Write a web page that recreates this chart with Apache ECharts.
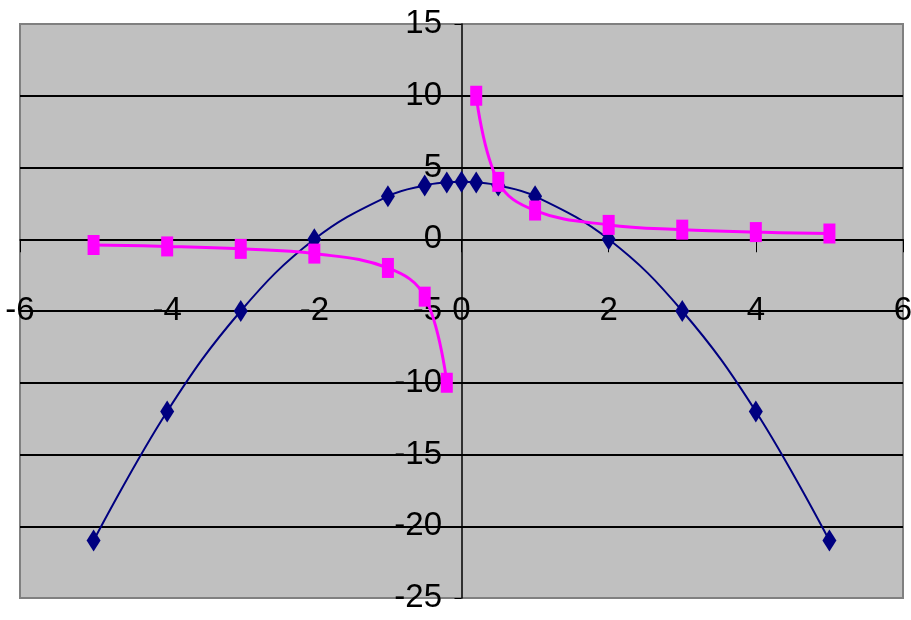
<!DOCTYPE html>
<html>
<head>
<meta charset="utf-8">
<script src="https://cdn.jsdelivr.net/npm/echarts@6/dist/echarts.min.js"></script>
<style>
  html, body { margin: 0; padding: 0; background: #fff; }
  #chart { width: 911px; height: 620px; }
</style>
</head>
<body>
<div id="chart"></div>
<script>
// parabola y = 4 - x^2
var blueX = [-5, -4, -3, -2, -1, -0.5, -0.2, 0, 0.2, 0.5, 1, 2, 3, 4, 5];
var blueY = [-21, -12, -5, 0, 3, 3.75, 3.96, 4, 3.96, 3.75, 3, 0, -5, -12, -21];

// hyperbola y = 2 / x, two branches
var pinkLeftX = [-5, -4, -3, -2, -1, -0.5, -0.2];
var pinkLeftY = [-0.4, -0.5, -0.67, -1, -2, -4, -10];
var pinkRightX = [0.2, 0.5, 1, 2, 3, 4, 5];
var pinkRightY = [10, 4, 2, 1, 0.67, 0.5, 0.4];

function pairs(xs, ys) {
  var out = [];
  for (var i = 0; i < xs.length; i++) out.push([xs[i], ys[i]]);
  return out;
}

var font = "'Liberation Sans', Arial, sans-serif";
var myChart = echarts.init(document.getElementById('chart'));

var pinkStyle = {
  type: 'line',
  smooth: 0.4,
  symbol: 'rect',
  symbolSize: [12, 20],
  itemStyle: { color: '#ff00ff' },
  lineStyle: { color: '#ff00ff', width: 3 },
  z: 3
};

var option = {
  animation: false,
  grid: {
    left: 20, top: 24, right: 8, bottom: 22,
    outerBoundsMode: 'none',
    containLabel: false,
    show: true,
    backgroundColor: '#c0c0c0',
    borderColor: '#808080',
    borderWidth: 2
  },
  xAxis: {
    type: 'value',
    min: -6, max: 6, interval: 2,
    axisLine: { onZero: true, lineStyle: { color: '#000', width: 1.5 } },
    axisTick: { show: true, length: 13, lineStyle: { color: '#000' } },
    axisLabel: {
      // labels sit on the -5 gridline, as in the original
      margin: -304, fontSize: 33, fontFamily: font, color: '#000',
      showMinLabel: true, showMaxLabel: true, hideOverlap: false
    },
    splitLine: { show: false }
  },
  yAxis: {
    type: 'value',
    min: -25, max: 15, interval: 5,
    axisLine: { onZero: true, lineStyle: { color: '#000', width: 1.5 } },
    axisTick: { show: true, length: 7, lineStyle: { color: '#000' } },
    axisLabel: {
      // labels next to the vertical axis at x = 0
      margin: -422, fontSize: 33, fontFamily: font, color: '#000',
      showMinLabel: true, showMaxLabel: true, hideOverlap: false
    },
    splitLine: {
      show: true, showMinLine: false, showMaxLine: false,
      lineStyle: { color: '#000', width: 2 }
    }
  },
  series: [
    {
      name: 'y1',
      type: 'line',
      smooth: 0.4,
      symbol: 'diamond',
      symbolSize: [14, 22],
      itemStyle: { color: '#000080' },
      lineStyle: { color: '#000080', width: 2 },
      data: pairs(blueX, blueY),
      z: 2
    },
    Object.assign({ name: 'y2a', data: pairs(pinkLeftX, pinkLeftY) }, pinkStyle),
    Object.assign({ name: 'y2b', data: pairs(pinkRightX, pinkRightY) }, pinkStyle)
  ]
};
myChart.setOption(option);
</script>
</body>
</html>
